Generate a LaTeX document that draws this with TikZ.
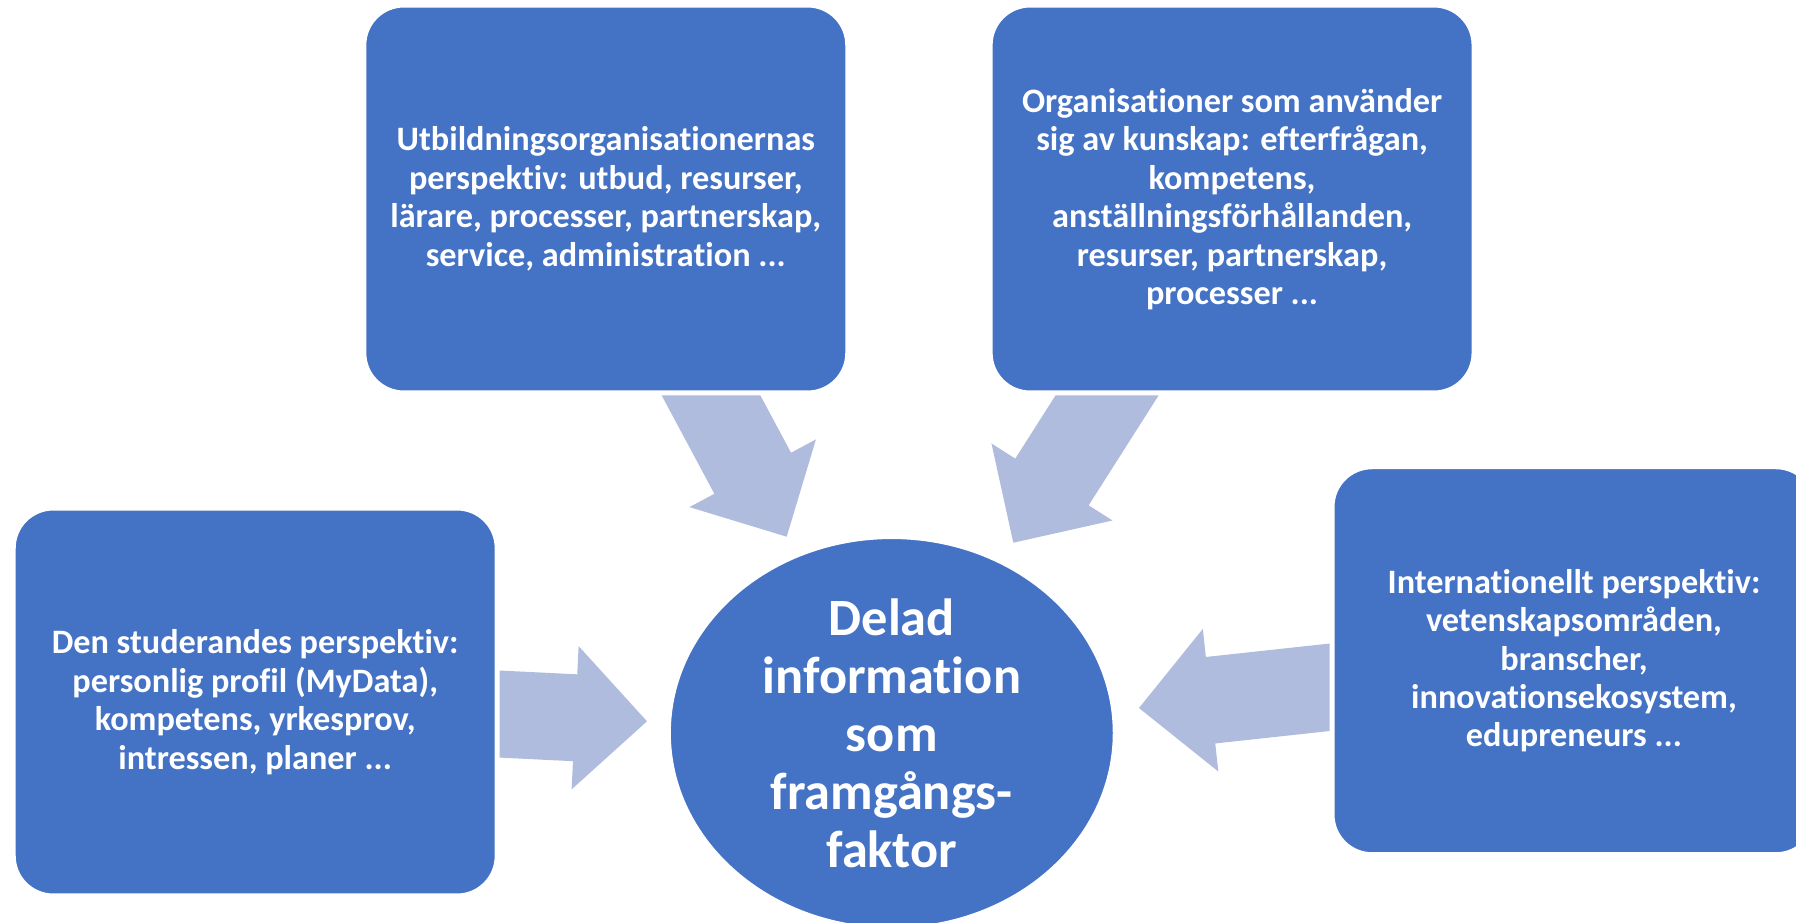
\documentclass[tikz,border=0pt]{standalone}
\usepackage{fontspec}
\setmainfont{Carlito}[Ligatures=NoCommon]
\usetikzlibrary{calc,shapes.geometric,backgrounds}
\definecolor{boxblue}{RGB}{68,114,196}
\definecolor{arrowblue}{RGB}{175,188,221}
\newcommand{\convarrow}[2]{%
  \coordinate (h) at ($(#2)!1.44cm!(#1.center)$);
  \fill[arrowblue] ($(#1.center)!0.87cm!90:(#2)$) -- ($(h)!0.87cm!90:(#2)$) -- ($(h)!1.435cm!90:(#2)$) -- (#2)
    -- ($(h)!1.435cm!-90:(#2)$) -- ($(h)!0.87cm!-90:(#2)$) -- ($(#1.center)!0.87cm!-90:(#2)$) -- cycle;}

\begin{document}
\begin{tikzpicture}[x=0.02cm, y=-0.02cm,
    persp/.style={rectangle, rounded corners=0.8cm, fill=boxblue, draw=white, line width=0.1cm,
      minimum width=9.68cm, minimum height=7.76cm, text=white, align=center,
      font=\bfseries\fontsize{19.5}{21.9}\selectfont},
    hub/.style={ellipse, fill=boxblue, draw=white, line width=0.1cm, inner sep=0pt,
      minimum width=8.94cm, minimum height=7.86cm, text=white, align=center,
      font=\bfseries\fontsize{29.8}{33}\selectfont}]
    \useasboundingbox (0,0) rectangle (1796,923);
    \clip (0,0) rectangle (1796,923);

    \node[hub] (hub) at (891.8,733) {Delad\\information\\som\\framgångs-\\faktor};
    \node[persp] (utb) at (605.8,199) {Utbildningsorganisationernas\\perspektiv: utbud, resurser,\\lärare, processer, partnerskap,\\service, administration ...};
    \node[persp] (org) at (1232.1,199) {Organisationer som använder\\sig av kunskap: efterfrågan,\\kompetens,\\anställningsförhållanden,\\resurser, partnerskap,\\processer ...};
    \node[persp] (stud) at (255.2,702) {Den studerandes perspektiv:\\personlig profil (MyData),\\kompetens, yrkesprov,\\intressen, planer ...};
    \node[persp] (intl) at (1574,660.7) {Internationellt perspektiv:\\vetenskapsområden,\\branscher,\\innovationsekosystem,\\edupreneurs ...};

    \coordinate (utb-tip) at (786.7,536.7);
    \coordinate (org-tip) at (1013.3,542.7);
    \coordinate (stud-tip) at (647,721.3);
    \coordinate (intl-tip) at (1139,708);

    \begin{pgfonlayer}{background}
        \convarrow{utb}{utb-tip}
        \convarrow{org}{org-tip}
        \convarrow{stud}{stud-tip}
        \convarrow{intl}{intl-tip}
    \end{pgfonlayer}
\end{tikzpicture}
\end{document}
